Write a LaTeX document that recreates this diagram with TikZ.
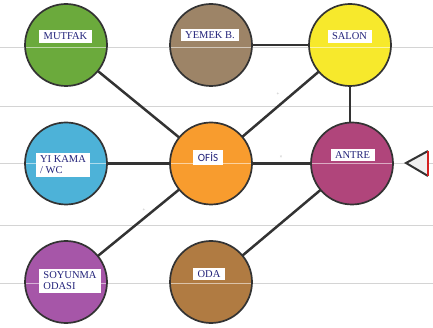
\documentclass[tikz,border=0pt]{standalone}
\usepackage{fontspec}
\setmainfont{Liberation Serif}
\newfontfamily\labelsans{Carlito}
\definecolor{rule}{HTML}{D4D4D4}
\definecolor{ink}{HTML}{333333}
\definecolor{navy}{HTML}{22227A}
\definecolor{cGreen}{HTML}{6BAA3C}
\definecolor{cTaupe}{HTML}{9D8467}
\definecolor{cYellow}{HTML}{F7E92C}
\definecolor{cBlue}{HTML}{4DB2D8}
\definecolor{cOrange}{HTML}{F89C2E}
\definecolor{cMagenta}{HTML}{B0457B}
\definecolor{cPurple}{HTML}{A656A8}
\definecolor{cBrown}{HTML}{B07B42}
\definecolor{cRed}{HTML}{D42020}
\tikzset{
  room/.style={circle, draw=ink, line width=1.7pt, minimum size=82pt, inner sep=0pt},
  roomlabel/.style={fill=white, text=navy, inner xsep=4.5pt, inner ysep=2.8pt,
    font=\fontsize{10.5}{11}\selectfont, align=left},
  link/.style={draw=ink, line width=2.5pt},
  guide/.style={draw=rule, line width=0.9pt},
  guideover/.style={draw=white, opacity=0.55, line width=0.9pt},
  tick/.style={text=gray!70, font=\fontsize{5}{5}\selectfont, inner sep=0pt}
}
\begin{document}
\begin{tikzpicture}[x=1pt, y=-1pt]
\useasboundingbox (0,0) rectangle (433,328);

% horizontal guide rules
\foreach \yy in {47,106,163,225,283} \draw[guide] (0,\yy) -- (433,\yy);

% room positions
\coordinate (pMutfak) at (66,45);
\coordinate (pYemek) at (211,45);
\coordinate (pSalon) at (350,45);
\coordinate (pYikama) at (66,163.5);
\coordinate (pOfis) at (211,163.5);
\coordinate (pAntre) at (352,163.5);
\coordinate (pSoyunma) at (66,282);
\coordinate (pOda) at (211,282);

% connections between rooms
\draw[link] (pMutfak) -- (pOfis);
\draw[link] (pYemek) -- (pSalon);
\draw[link] (pSalon) -- (pOfis);
\draw[link] (pSalon) -- (pSalon |- pAntre);
\draw[link] (pYikama) -- (pOfis);
\draw[link] (pOfis) -- (pAntre);
\draw[link] (pOfis) -- (pSoyunma);
\draw[link] (pAntre) -- (pOda);

% rooms
\node[room, fill=cGreen]   (mutfak)  at (pMutfak) {};
\node[room, fill=cTaupe]   (yemek)   at (pYemek) {};
\node[room, fill=cYellow]  (salon)   at (pSalon) {};
\node[room, fill=cBlue]    (yikama)  at (pYikama) {};
\node[room, fill=cOrange]  (ofis)    at (pOfis) {};
\node[room, fill=cMagenta] (antre)   at (pAntre) {};
\node[room, fill=cPurple]  (soyunma) at (pSoyunma) {};
\node[room, fill=cBrown]   (oda)     at (pOda) {};

% rules showing faintly across the rooms
\begin{scope}
  \clip (pMutfak) circle[radius=40pt] (pYemek) circle[radius=40pt]
        (pSalon) circle[radius=40pt] (pYikama) circle[radius=40pt]
        (pOfis) circle[radius=40pt] (pAntre) circle[radius=40pt]
        (pSoyunma) circle[radius=40pt] (pOda) circle[radius=40pt];
  \foreach \yy in {47,163,283} \draw[guideover] (0,\yy) -- (433,\yy);
\end{scope}

% small marks beside the links
\node[tick] (m1) at (278,94) {+};
\node[tick] (m2) at (281,157) {\texttimes};
\node[tick] (m3) at (144,210) {+};

% room names
\node[roomlabel] (mutfakL)  at (65.5,36.5) {MUTFAK};
\node[roomlabel] (yemekL)   at (210,35) {YEMEK B.};
\node[roomlabel] (salonL)   at (349.5,36.5) {SALON};
\node[roomlabel] (yikamaL)  at (63,165) {YI KAMA\\/ WC};
\node[roomlabel, font=\labelsans\fontsize{11}{12}\selectfont] (ofisL) at (208,157.5) {OFİS};
\node[roomlabel] (antreL)   at (352.5,155) {ANTRE};
\node[roomlabel] (soyunmaL) at (70,281) {SOYUNMA\\ODASI};
\node[roomlabel] (odaL)     at (209,274) {ODA};

% entrance marker
\coordinate (tTip) at (406,163);
\coordinate (tTop) at (428,151);
\coordinate (tBot) at (428,176);
\fill[gray!12] (tTip) -- (tTop) -- (tBot) -- cycle;
\draw[ink, line width=2pt, line join=miter] (tTop) -- (tTip) -- (tBot);
\draw[cRed, line width=2.6pt] (tTop) -- (tBot);
\end{tikzpicture}
\end{document}
